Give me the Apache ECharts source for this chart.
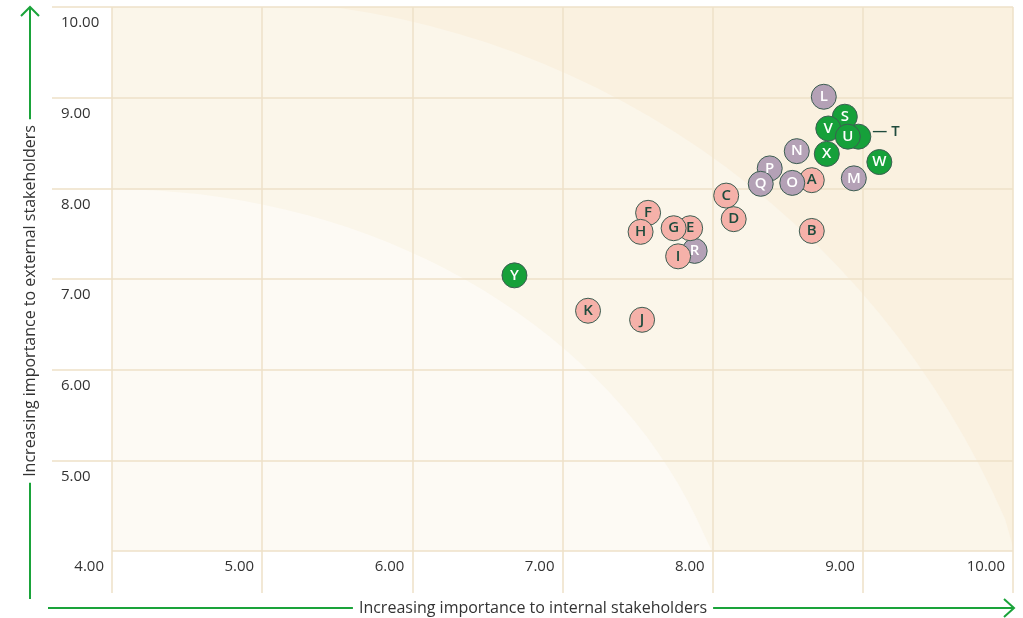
<!DOCTYPE html>
<html>
<head>
<meta charset="utf-8">
<title>Materiality matrix</title>
<script src="https://cdn.jsdelivr.net/npm/echarts@6/dist/echarts.min.js"></script>
<style>
  html, body { margin: 0; padding: 0; background: #fff; }
  #main { width: 1023px; height: 618px; }
</style>
</head>
<body>
<div id="main"></div>
<script>
// topics, listed in drawing order (later ones sit on top)
var pointNames = ['R', 'A', 'B', 'C', 'D', 'E', 'F', 'G', 'H', 'I', 'J', 'K',
                  'L', 'M', 'N', 'O', 'P', 'Q',
                  'T', 'S', 'V', 'U', 'W', 'X', 'Y'];
var xValues = [7.88, 8.66, 8.66, 8.09, 8.14, 7.85, 7.57, 7.74, 7.52, 7.77, 7.53, 7.17,
               8.74, 8.94, 8.56, 8.53, 8.38, 8.32,
               8.97, 8.88, 8.77, 8.90, 9.11, 8.76, 6.68];
var yValues = [7.31, 8.09, 7.53, 7.92, 7.66, 7.56, 7.73, 7.56, 7.52, 7.25, 6.55, 6.65,
               9.01, 8.11, 8.41, 8.06, 8.22, 8.05,
               8.57, 8.79, 8.66, 8.57, 8.29, 8.38, 7.04];
var pointGroups = ['purple', 'pink', 'pink', 'pink', 'pink', 'pink', 'pink', 'pink', 'pink', 'pink', 'pink', 'pink',
                   'purple', 'purple', 'purple', 'purple', 'purple', 'purple',
                   'green', 'green', 'green', 'green', 'green', 'green', 'green'];
var axisMin = 4;
var axisMax = 10;
var xTitle = 'Increasing importance to internal stakeholders';
var yTitle = 'Increasing importance to external stakeholders';

var groupFill = { pink: '#f5b1a9', purple: '#b4a1b6', green: '#16a03a' };
var groupText = { pink: '#1f4b3d', purple: '#ffffff', green: '#ffffff' };
var gridColor = '#eee1c8';
var arrowColor = '#1aa33a';

var chart = echarts.init(document.getElementById('main'));

var points = [];
for (var i = 0; i < pointNames.length; i++) {
    var g = pointGroups[i];
    var item = {
        name: pointNames[i],
        value: [xValues[i], yValues[i]],
        itemStyle: { color: groupFill[g] },
        label: { color: groupText[g] }
    };
    if (pointNames[i] === 'T') {
        item.label = {
            position: 'right', distance: 1, offset: [0, -5],
            color: '#1f4b3d', formatter: '\u2014 T'
        };
    }
    points.push(item);
}

// soft curved bands behind the matrix (decoration)
function bandPolygon(api, cx, cy, rx, ry) {
    var pts = [];
    for (var k = 0; k <= 180; k++) {
        var t = k / 180 * Math.PI * 2;
        var x = Math.max(axisMin, Math.min(axisMax, cx + rx * Math.cos(t)));
        var y = Math.max(axisMin, Math.min(axisMax, cy + ry * Math.sin(t)));
        pts.push(api.coord([x, y]));
    }
    return pts;
}

function renderBands(params, api) {
    var p0 = api.coord([axisMin, axisMin]);
    var p1 = api.coord([axisMax, axisMax]);
    return {
        type: 'group',
        children: [
            { type: 'rect', shape: { x: p0[0], y: p1[1], width: p1[0] - p0[0], height: p0[1] - p1[1] },
              style: { fill: '#faf1e0' } },
            { type: 'polygon', shape: { points: bandPolygon(api, 4.73, 0.43, 5.71, 9.65) },
              style: { fill: '#fbf6ea' } },
            { type: 'polygon', shape: { points: bandPolygon(api, 4.0, 2.18, 4.2, 5.81) },
              style: { fill: '#fdfaf4' } }
        ]
    };
}

var labelFont = '"Open Sans", Lato, sans-serif';

chart.setOption({
    animation: false,
    textStyle: { fontFamily: labelFont },
    grid: { left: 112, right: 10, top: 7, bottom: 67 },
    xAxis: {
        type: 'value', min: axisMin, max: axisMax, interval: 1, z: 3,
        axisLine: { show: false },
        axisTick: { show: true, length: 42, lineStyle: { color: gridColor, width: 1.5 } },
        splitLine: { show: true, lineStyle: { color: gridColor, width: 1.5 } },
        axisLabel: {
            align: 'right', margin: 8, padding: [0, 8, 0, 0],
            color: '#333', fontSize: 15, fontFamily: labelFont,
            formatter: function (v) { return v.toFixed(2); }
        }
    },
    yAxis: {
        type: 'value', min: axisMin, max: axisMax, interval: 1, z: 3,
        axisLine: { show: false },
        axisTick: { show: true, length: 60, lineStyle: { color: gridColor, width: 1.5 } },
        splitLine: { show: true, lineStyle: { color: gridColor, width: 1.5 } },
        axisLabel: {
            align: 'left', margin: 51, verticalAlign: 'top', lineHeight: 32,
            showMinLabel: false,
            color: '#333', fontSize: 15, fontFamily: labelFont,
            formatter: function (v) { return v.toFixed(2); }
        }
    },
    series: [
        {
            type: 'custom', z: 1, silent: true, clip: true,
            renderItem: renderBands,
            data: [[axisMin, axisMin]]
        },
        {
            type: 'scatter', z: 5,
            symbolSize: 25,
            itemStyle: { borderColor: '#3d5e52', borderWidth: 1, opacity: 1 },
            label: {
                show: true, position: 'inside',
                fontSize: 15, fontWeight: 600, fontFamily: labelFont,
                formatter: '{b}'
            },
            data: points
        }
    ],
    graphic: [
        // horizontal axis arrow
        { type: 'line', z: 10, shape: { x1: 48, y1: 608, x2: 1013, y2: 608 },
          style: { stroke: arrowColor, lineWidth: 2 } },
        { type: 'polyline', z: 10, shape: { points: [[1004, 599], [1014, 608], [1004, 617]] },
          style: { stroke: arrowColor, lineWidth: 2, fill: null } },
        { type: 'text', z: 11, x: 533, y: 608,
          style: { text: xTitle, fill: '#333', font: '16px ' + labelFont,
                   textAlign: 'center', textVerticalAlign: 'middle',
                   backgroundColor: '#fff', padding: [2, 6] } },
        // vertical axis arrow
        { type: 'line', z: 10, shape: { x1: 30, y1: 599, x2: 30, y2: 8 },
          style: { stroke: arrowColor, lineWidth: 2 } },
        { type: 'polyline', z: 10, shape: { points: [[21, 16], [30, 7], [39, 16]] },
          style: { stroke: arrowColor, lineWidth: 2, fill: null } },
        { type: 'text', z: 11, x: 30, y: 301, rotation: Math.PI / 2,
          style: { text: yTitle, fill: '#333', font: '16px ' + labelFont,
                   textAlign: 'center', textVerticalAlign: 'middle',
                   backgroundColor: '#fff', padding: [2, 6] } }
    ]
});
</script>
</body>
</html>
